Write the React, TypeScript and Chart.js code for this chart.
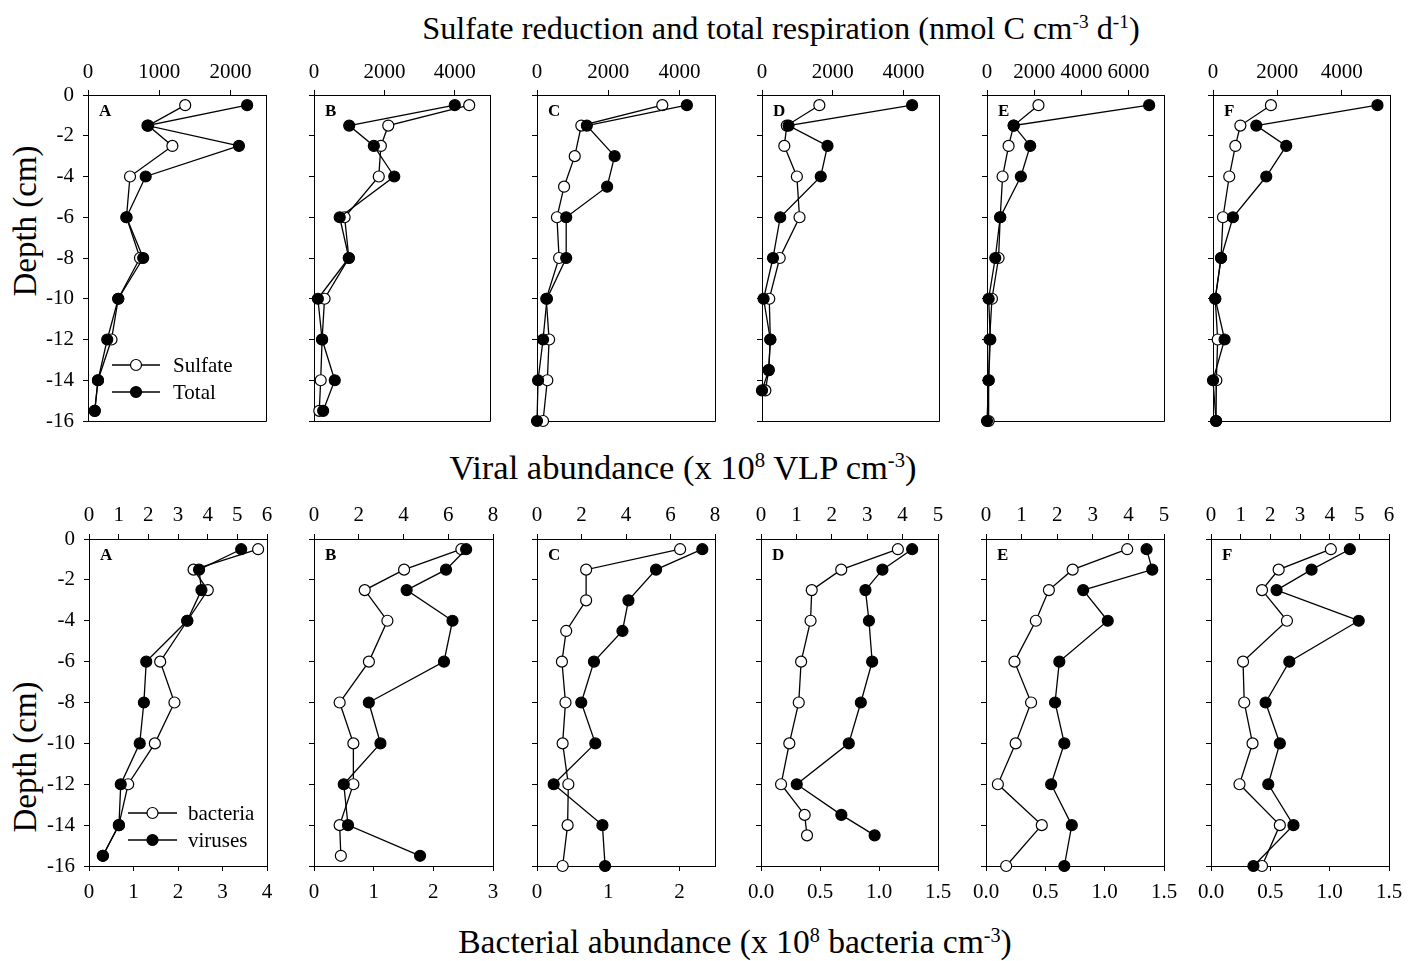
import React, { useEffect, useRef } from "react";
import { Chart, registerables } from "chart.js";

Chart.register(...registerables);

const SERIF = "'Liberation Serif', 'Times New Roman', Times, serif";

// Sampling depths (cm) of each core
const depthsAB = [-0.5, -1.5, -2.5, -4, -6, -8, -10, -12, -14, -15.5];
const depthsC = [-0.5, -1.5, -3, -4.5, -6, -8, -10, -12, -14, -16];
const depthsD = [-0.5, -1.5, -2.5, -4, -6, -8, -10, -12, -13.5, -14.5];
const depthsEF = [-0.5, -1.5, -2.5, -4, -6, -8, -10, -12, -14, -16];

// Sulfate reduction and total respiration (nmol C cm-3 d-1)
const sulfateA = [1365, 845, 1185, 590, 540, 730, 425, 330, 140, 95];
const totalA = [2235, 835, 2120, 810, 540, 775, 425, 270, 140, 95];
const sulfateB = [4410, 2110, 1900, 1840, 870, 990, 300, 230, 190, 150];
const totalB = [4000, 1000, 1700, 2280, 730, 990, 110, 230, 590, 260];
const sulfateC = [3520, 1245, 1060, 760, 560, 620, 260, 340, 290, 170];
const totalC = [4210, 1400, 2180, 1970, 820, 820, 280, 170, 30, 0];
const sulfateD = [1620, 700, 630, 985, 1060, 500, 205, 235, 190, 95];
const totalD = [4240, 750, 1850, 1660, 515, 310, 45, 235, 190, 0];
const sulfateE = [2180, 1130, 915, 660, 560, 490, 210, 110, 70, 70];
const totalE = [6870, 1130, 1830, 1435, 560, 350, 70, 140, 70, 0];
const sulfateF = [1800, 850, 695, 505, 310, 250, 70, 145, 105, 95];
const totalF = [5110, 1345, 2275, 1655, 620, 250, 70, 360, 0, 95];

// Bacterial abundance (x 10^8 cm-3) and viral abundance (x 10^8 VLP cm-3)
const bacteriaA = [3.8, 2.35, 2.67, 2.21, 1.6, 1.92, 1.48, 0.88, 0.67, 0.31];
const virusesA = [5.13, 3.71, 3.79, 3.31, 1.93, 1.85, 1.71, 1.07, 1.01, 0.47];
const bacteriaB = [2.47, 1.51, 0.85, 1.23, 0.92, 0.43, 0.66, 0.66, 0.43, 0.45];
const virusesB = [6.8, 5.9, 4.14, 6.19, 5.81, 2.45, 2.97, 1.33, 1.52, 4.74];
const bacteriaC = [2.01, 0.69, 0.69, 0.41, 0.35, 0.4, 0.36, 0.44, 0.43, 0.36];
const virusesC = [7.43, 5.35, 4.11, 3.84, 2.56, 1.99, 2.62, 0.75, 2.94, 3.06];
const bacteriaD = [1.16, 0.68, 0.43, 0.42, 0.34, 0.32, 0.24, 0.17, 0.37, 0.39];
const virusesD = [4.27, 3.43, 2.95, 3.05, 3.14, 2.82, 2.48, 1.01, 2.27, 3.21];
const bacteriaE = [1.19, 0.73, 0.53, 0.42, 0.24, 0.38, 0.25, 0.1, 0.47, 0.17];
const virusesE = [4.51, 4.67, 2.73, 3.42, 2.06, 1.94, 2.2, 1.83, 2.41, 2.2];
const bacteriaF = [1.01, 0.57, 0.43, 0.64, 0.27, 0.28, 0.35, 0.24, 0.58, 0.43];
const virusesF = [4.68, 3.39, 2.21, 4.98, 2.64, 1.84, 2.32, 1.93, 2.78, 1.43];

// Axis ranges and tick values per core
const panelLetters = ["A", "B", "C", "D", "E", "F"];
const respirationMax = [2500, 5000, 5000, 5000, 7500, 5500];
const respirationTicks = [
  [0, 1000, 2000],
  [0, 2000, 4000],
  [0, 2000, 4000],
  [0, 2000, 4000],
  [0, 2000, 4000, 6000],
  [0, 2000, 4000],
];
const viralMax = [6, 8, 8, 5, 5, 6];
const viralTicks = [
  [0, 1, 2, 3, 4, 5, 6],
  [0, 2, 4, 6, 8],
  [0, 2, 4, 6, 8],
  [0, 1, 2, 3, 4, 5],
  [0, 1, 2, 3, 4, 5],
  [0, 1, 2, 3, 4, 5, 6],
];
const bacterialMax = [4, 3, 2.5, 1.5, 1.5, 1.5];
const bacterialTicks = [
  [0, 1, 2, 3, 4],
  [0, 1, 2, 3],
  [0, 1, 2],
  [0, 0.5, 1, 1.5],
  [0, 0.5, 1, 1.5],
  [0, 0.5, 1, 1.5],
];
const bacterialDecimals = [0, 0, 0, 1, 1, 1];
const depthMin = -16;
const depthMax = 0;
const depthTicks = [0, -2, -4, -6, -8, -10, -12, -14, -16];

const coreDepths = [depthsAB, depthsAB, depthsC, depthsD, depthsEF, depthsEF];
const sulfateSeries = [sulfateA, sulfateB, sulfateC, sulfateD, sulfateE, sulfateF];
const totalSeries = [totalA, totalB, totalC, totalD, totalE, totalF];
const bacteriaSeries = [bacteriaA, bacteriaB, bacteriaC, bacteriaD, bacteriaE, bacteriaF];
const virusSeries = [virusesA, virusesB, virusesC, virusesD, virusesE, virusesF];

// Layout of the plot boxes on the page (px)
const topRowLefts = [88, 314, 537, 762, 987, 1213];
const topRowRights = [266, 490, 715, 939, 1164, 1390];
const botRowLefts = [89, 314, 537, 761, 986, 1211];
const botRowRights = [267, 493, 715, 938, 1164, 1389];
const TOP_ROW = { top: 95, bottom: 421 };
const BOT_ROW = { top: 539, bottom: 866 };

const PAD_L = 70; // left axis band
const AXIS_H = 50; // horizontal axis band
const PAD_R = 14;
const PAD_B = 16;
const TICK_FONT = { family: SERIF, size: 21 };

type SeriesSpec = { label: string; values: number[]; filled: boolean; axisId: string };
type AxisSpec = {
  id: string;
  position: "top" | "bottom";
  max: number;
  ticks: number[];
  decimals: number;
  padding: number;
};
type LegendSpec = { lineX0: number; lineX1: number; textX: number; rows: number[] };
type PanelSpec = {
  key: string;
  letter: string;
  left: number;
  right: number;
  top: number;
  bottom: number;
  depths: number[];
  series: SeriesSpec[];
  axes: AxisSpec[];
  showDepthLabels: boolean;
  legend?: LegendSpec;
};

function xAxis(a: AxisSpec) {
  return {
    type: "linear",
    position: a.position,
    min: 0,
    max: a.max,
    bounds: "data",
    afterBuildTicks: (s: any) => {
      s.ticks = a.ticks.map((v) => ({ value: v }));
    },
    ticks: {
      autoSkip: false,
      maxRotation: 0,
      minRotation: 0,
      color: "#000",
      font: TICK_FONT,
      padding: a.padding,
      callback: (v: number | string) => Number(v).toFixed(a.decimals),
    },
    grid: { drawOnChartArea: false, drawTicks: true, tickLength: 5, color: "#000", lineWidth: 1 },
    border: { display: true, color: "#000", width: 1 },
    afterFit: (s: any) => {
      s.height = AXIS_H;
      s.paddingLeft = 0;
      s.paddingRight = 0;
    },
  };
}

function decorations(spec: PanelSpec) {
  return {
    id: "panelDecor",
    beforeDatasetsDraw(chart: any) {
      const { ctx, chartArea: a } = chart;
      ctx.save();
      ctx.strokeStyle = "#000";
      ctx.lineWidth = 1;
      const r = Math.round(a.right) + 0.5;
      const b = Math.round(a.bottom) + 0.5;
      ctx.beginPath();
      ctx.moveTo(r, a.top);
      ctx.lineTo(r, b);
      ctx.moveTo(a.left, b);
      ctx.lineTo(r, b);
      ctx.stroke();
      ctx.restore();
    },
    afterDatasetsDraw(chart: any) {
      const { ctx, chartArea: a } = chart;
      ctx.save();
      ctx.fillStyle = "#000";
      ctx.font = `bold 17px ${SERIF}`;
      ctx.textBaseline = "middle";
      ctx.textAlign = "left";
      ctx.fillText(spec.letter, a.left + 11, a.top + 17);
      const lg = spec.legend;
      if (lg) {
        ctx.font = `21px ${SERIF}`;
        spec.series.forEach((s, i) => {
          const y = a.top + lg.rows[i];
          ctx.strokeStyle = "#000";
          ctx.lineWidth = 1.3;
          ctx.beginPath();
          ctx.moveTo(a.left + lg.lineX0, y);
          ctx.lineTo(a.left + lg.lineX1, y);
          ctx.stroke();
          ctx.beginPath();
          ctx.arc(a.left + (lg.lineX0 + lg.lineX1) / 2, y, 5.5, 0, Math.PI * 2);
          ctx.fillStyle = s.filled ? "#000" : "#fff";
          ctx.fill();
          ctx.lineWidth = 1.2;
          ctx.stroke();
          ctx.fillStyle = "#000";
          ctx.fillText(s.label, a.left + lg.textX, y + 1);
        });
      }
      ctx.restore();
    },
  };
}

function Panel({ spec }: { spec: PanelSpec }) {
  const ref = useRef<HTMLCanvasElement>(null);
  const hasBottom = spec.axes.some((a) => a.position === "bottom");
  const boxW = spec.right - spec.left;
  const boxH = spec.bottom - spec.top;
  const width = PAD_L + boxW + PAD_R;
  const height = AXIS_H + boxH + (hasBottom ? AXIS_H + 4 : PAD_B);

  useEffect(() => {
    if (!ref.current) return;
    const scales: any = {
      y: {
        type: "linear",
        position: "left",
        min: depthMin,
        max: depthMax,
        afterBuildTicks: (s: any) => {
          s.ticks = depthTicks.map((v) => ({ value: v }));
        },
        ticks: {
          color: spec.showDepthLabels ? "#000" : "rgba(0,0,0,0)",
          font: TICK_FONT,
          padding: 9,
          callback: (v: number | string) => String(v),
        },
        grid: { drawOnChartArea: false, drawTicks: true, tickLength: 5, color: "#000", lineWidth: 1 },
        border: { display: true, color: "#000", width: 1 },
        afterFit: (s: any) => {
          s.width = PAD_L;
          s.paddingTop = 0;
          s.paddingBottom = 0;
        },
      },
    };
    spec.axes.forEach((a) => {
      scales[a.id] = xAxis(a);
    });

    // filled series first so it is painted on top
    const ordered = [...spec.series].sort((p, q) => Number(q.filled) - Number(p.filled));
    const datasets = ordered.map((s) => ({
      label: s.label,
      data: s.values.map((v, i) => ({ x: v, y: spec.depths[i] })),
      xAxisID: s.axisId,
      yAxisID: "y",
      showLine: true,
      borderColor: "#000",
      borderWidth: 1.3,
      pointRadius: 5.5,
      pointBorderWidth: 1.2,
      pointBorderColor: "#000",
      pointBackgroundColor: s.filled ? "#000" : "#fff",
      clip: false,
      tension: 0,
    }));

    const chart = new Chart(ref.current, {
      type: "scatter",
      data: { datasets },
      options: {
        responsive: false,
        animation: false,
        events: [],
        layout: { padding: { left: 0, top: 0, right: PAD_R, bottom: hasBottom ? 4 : PAD_B } },
        plugins: { legend: { display: false }, tooltip: { enabled: false } },
        scales,
      } as any,
      plugins: [decorations(spec)],
    });
    return () => chart.destroy();
  }, [spec]);

  return (
    <canvas
      ref={ref}
      width={width}
      height={height}
      style={{ position: "absolute", left: spec.left - PAD_L, top: spec.top - AXIS_H, width, height }}
    />
  );
}

const topPanels: PanelSpec[] = panelLetters.map((letter, i) => ({
  key: "resp" + letter,
  letter,
  left: topRowLefts[i],
  right: topRowRights[i],
  top: TOP_ROW.top,
  bottom: TOP_ROW.bottom,
  depths: coreDepths[i],
  series: [
    { label: "Sulfate", values: sulfateSeries[i], filled: false, axisId: "xt" },
    { label: "Total", values: totalSeries[i], filled: true, axisId: "xt" },
  ],
  axes: [{ id: "xt", position: "top", max: respirationMax[i], ticks: respirationTicks[i], decimals: 0, padding: 5 }],
  showDepthLabels: i === 0,
  legend: i === 0 ? { lineX0: 24, lineX1: 72, textX: 85, rows: [270, 297] } : undefined,
}));

const bottomPanels: PanelSpec[] = panelLetters.map((letter, i) => ({
  key: "abund" + letter,
  letter,
  left: botRowLefts[i],
  right: botRowRights[i],
  top: BOT_ROW.top,
  bottom: BOT_ROW.bottom,
  depths: coreDepths[i],
  series: [
    { label: "bacteria", values: bacteriaSeries[i], filled: false, axisId: "xb" },
    { label: "viruses", values: virusSeries[i], filled: true, axisId: "xt" },
  ],
  axes: [
    { id: "xt", position: "top", max: viralMax[i], ticks: viralTicks[i], decimals: 0, padding: 6 },
    {
      id: "xb",
      position: "bottom",
      max: bacterialMax[i],
      ticks: bacterialTicks[i],
      decimals: bacterialDecimals[i],
      padding: 9,
    },
  ],
  showDepthLabels: i === 0,
  legend: i === 0 ? { lineX0: 39, lineX1: 88, textX: 99, rows: [274, 301] } : undefined,
}));

const titleStyle: React.CSSProperties = {
  position: "absolute",
  fontFamily: SERIF,
  lineHeight: 1,
  whiteSpace: "nowrap",
  color: "#000",
  transform: "translate(-50%, -50%)",
};
const supStyle: React.CSSProperties = { fontSize: "0.6em", lineHeight: 0, verticalAlign: "0.55em" };

export default function App() {
  return (
    <div
      style={{
        position: "absolute",
        left: 0,
        top: 0,
        width: 1418,
        height: 961,
        background: "#fff",
        overflow: "hidden",
      }}
    >
      <div style={{ ...titleStyle, fontSize: 32.3, left: 781, top: 28 }}>
        Sulfate reduction and total respiration (nmol C cm<sup style={supStyle}>-3</sup> d
        <sup style={supStyle}>-1</sup>)
      </div>
      <div style={{ ...titleStyle, fontSize: 34.5, left: 683, top: 467 }}>
        Viral abundance (x 10<sup style={supStyle}>8</sup> VLP cm<sup style={supStyle}>-3</sup>)
      </div>
      <div style={{ ...titleStyle, fontSize: 33.6, left: 735, top: 942 }}>
        Bacterial abundance (x 10<sup style={supStyle}>8</sup> bacteria cm<sup style={supStyle}>-3</sup>)
      </div>
      <div
        style={{ ...titleStyle, fontSize: 33, left: 25, top: 221, transform: "translate(-50%, -50%) rotate(-90deg)" }}
      >
        Depth (cm)
      </div>
      <div
        style={{ ...titleStyle, fontSize: 33, left: 25, top: 757, transform: "translate(-50%, -50%) rotate(-90deg)" }}
      >
        Depth (cm)
      </div>
      {topPanels.map((p) => (
        <Panel key={p.key} spec={p} />
      ))}
      {bottomPanels.map((p) => (
        <Panel key={p.key} spec={p} />
      ))}
    </div>
  );
}
